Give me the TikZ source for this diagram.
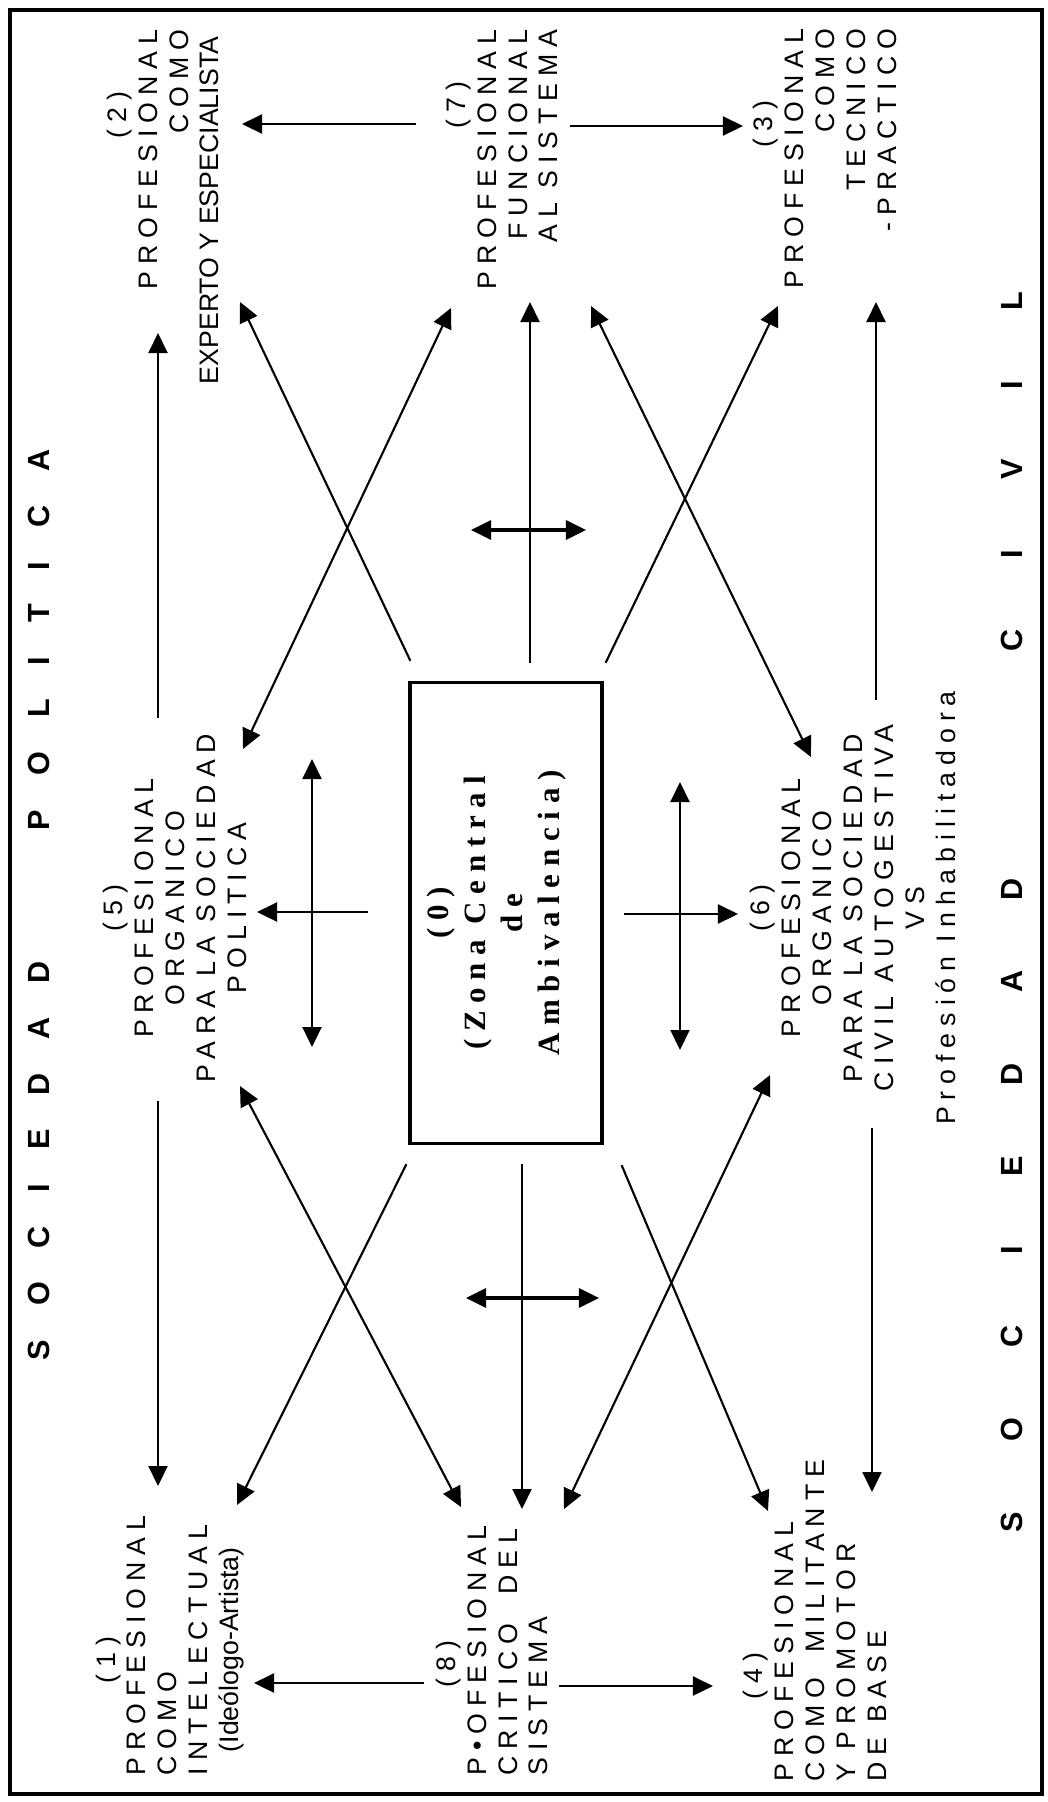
\documentclass[tikz,border=0pt]{standalone}
\usepackage{fontspec}
\usetikzlibrary{arrows.meta,calc}
\newfontfamily\spacedsans[LetterSpace=26]{Liberation Sans}
\newfontfamily\plainsans{Liberation Sans}
\newfontfamily\zoneserif[LetterSpace=25]{Liberation Serif}
\newfontfamily\polsans[LetterSpace=111]{Liberation Sans}
\newfontfamily\civsans[LetterSpace=230]{Liberation Sans}
\tikzset{
    prof/.style={rotate=90, inner sep=0pt, font=\spacedsans\fontsize{7.6}{8.8}\selectfont},
    zonebox/.style={rotate=90, draw, line width=0.9pt, inner sep=0pt, align=center,
        minimum width=4.61cm, minimum height=1.92cm, text depth=0.26cm,
        font=\zoneserif\bfseries\fontsize{8.8}{10.5}\selectfont},
    society/.style={rotate=90, inner sep=0pt, anchor=west},
    link/.style={line width=0.6pt, -{Triangle[length=0.2cm,width=0.19cm]}},
    both/.style={line width=0.6pt, {Triangle[length=0.2cm,width=0.19cm]}-{Triangle[length=0.2cm,width=0.19cm]}},
    swing/.style={line width=0.9pt, {Triangle[length=0.2cm,width=0.19cm]}-{Triangle[length=0.2cm,width=0.19cm]}}
}
\begin{document}
\begin{tikzpicture}[x=0.01cm, y=-0.01cm]
    \useasboundingbox (0,0) rectangle (1047,1802);
    \draw[line width=1.2pt] (10,10) rectangle (1042,1794);

    % society labels
    \node[society, font=\polsans\bfseries\fontsize{8.7}{10}\selectfont] (pol) at (39,1361) {SOCIEDAD\hspace{1.31cm}POLITICA};
    \node[society, font=\civsans\bfseries\fontsize{8.7}{10}\selectfont] (civ) at (1012,1533) {SOCIEDAD\hspace{2.27cm}CIVIL};

    % central zone
    \node[zonebox] (zone) at (506,913) {(0)\\(Zona Central\\de\\Ambivalencia)};

    % professional types
    \node[prof, anchor=east, align=right] (n2) at (163,29)
        {(2)\hspace*{0.62cm}\\PROFESIONAL\\COMO\\{\plainsans EXPERTO Y ESPECIALISTA}\hspace*{0.07cm}};
    \node[prof, anchor=east, align=right] (n7) at (502,29)
        {(7)\hspace*{0.52cm}\\PROFESIONAL\\FUNCIONAL\\AL SISTEMA};
    \node[prof, anchor=east, align=right] (n3) at (825,28)
        {(3)\hspace*{0.72cm}\\PROFESIONAL\\COMO\\TECNICO\\-PRACTICO};
    \node[prof, align=center] (n5) at (175,908)
        {(5)\\PROFESIONAL\\ORGANICO\\PARA LA SOCIEDAD\\POLITICA};
    \node[prof, align=center] (n6) at (853,908)
        {(6)\\PROFESIONAL\\ORGANICO\\PARA LA SOCIEDAD\\CIVIL AUTOGESTIVA\\VS\\Profesión Inhabilitadora};
    \node[prof, anchor=west, align=left] (n1) at (170,1776)
        {\hspace*{0.92cm}(1)\\PROFESIONAL\\COMO\\INTELECTUAL\\\hspace*{0.23cm}{\plainsans(Ideólogo-Artista)}};
    \node[prof, anchor=west, align=left] (n8) at (492,1776)
        {\hspace*{0.88cm}(8)\\P•OFESIONAL\\CRITICO\hspace{0.15cm} DEL\\SISTEMA};
    \node[prof, anchor=west, align=left] (n4) at (815,1782)
        {\hspace*{0.82cm}(4)\\PROFESIONAL\\COMO\hspace{0.1cm} MILITANTE\\Y PROMOTOR\\DE BASE};

    % free double arrows
    \coordinate (vl1) at (312,759);
    \coordinate (vl2) at (312,1047);
    \coordinate (vr1) at (680,782);
    \coordinate (vr2) at (680,1050);
    \coordinate (ht1) at (471,530);
    \coordinate (ht2) at (586,530);
    \coordinate (hb1) at (466,1298);
    \coordinate (hb2) at (599,1298);
    \draw[both] (vl1) -- (vl2);
    \draw[both] (vr1) -- (vr2);
    \draw[swing] (ht1) -- (ht2);
    \draw[swing] (hb1) -- (hb2);

    % top row
    \draw[link] ($(n7.east)+(-86,95)$) -- ($(n2.east)+(79,95)$);
    \draw[link] ($(n7.east)+(68,97)$) -- ($(n3.east)+(-82,98)$);
    \draw[link] ($(zone.north east)+(2,-20)$) -- ($(n2.east)+(77,273)$);
    \draw[link] ($(zone.east)+(24,-18)$) -- ($(n7.east)+(28,273)$);
    \draw[link] ($(zone.south east)+(2,-18)$) -- ($(n3.east)+(-47,278)$);
    \draw[both] ($(n5.center)+(68,-159)$) -- ($(n7.east)+(-51,279)$);
    \draw[both] ($(n6.center)+(-42,-151)$) -- ($(n7.east)+(89,277)$);
    \draw[link] ($(n5.center)+(-17,-190)$) -- ($(n2.east)+(-5,304)$);
    \draw[link] ($(n6.center)+(23,-208)$) -- ($(n3.east)+(51,274)$);

    % middle row
    \draw[link] ($(zone.north)+(-40,-1)$) -- ($(n5.center)+(82,4)$);
    \draw[link] ($(zone.south)+(20,1)$) -- ($(n6.center)+(-115,6)$);

    % bottom row
    \draw[link] ($(zone.north west)+(-2,19)$) -- ($(n1.west)+(67,-271)$);
    \draw[link] ($(zone.west)+(16,19)$) -- ($(n8.west)+(30,-267)$);
    \draw[link] ($(zone.south west)+(18,20)$) -- ($(n4.west)+(-47,-271)$);
    \draw[both] ($(n5.center)+(65,178)$) -- ($(n8.west)+(-31,-269)$);
    \draw[both] ($(n6.center)+(-83,167)$) -- ($(n8.west)+(72,-267)$);
    \draw[link] ($(n5.center)+(-17,193)$) -- ($(n1.west)+(-12,-290)$);
    \draw[link] ($(n6.center)+(19,220)$) -- ($(n4.west)+(57,-290)$);
    \draw[link] ($(n8.west)+(-68,-93)$) -- ($(n1.west)+(84,-93)$);
    \draw[link] ($(n8.west)+(67,-90)$) -- ($(n4.west)+(-102,-96)$);
\end{tikzpicture}
\end{document}
